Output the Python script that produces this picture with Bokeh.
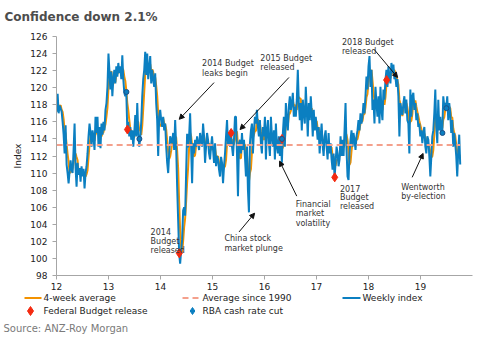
import pandas as pd
from bokeh.plotting import figure
from bokeh.layouts import column
from bokeh.core.properties import value
from bokeh.models import (Label, Arrow, NormalHead, FixedTicker, ColumnDataSource, Range1d)
from bokeh.embed import file_html
from bokeh.resources import INLINE

# ---------------- data ----------------
weekly_index = [
    117.2, 119.3, 117.0, 117.9, 117.6, 117.2, 116.0, 114.5, 112.3, 115.6,
    111.0, 110.0, 108.8, 110.2, 111.5, 110.4, 110.0, 112.7, 115.8, 110.6,
    108.4, 111.2, 109.8, 110.6, 109.0, 110.8, 109.6, 110.5, 108.2, 110.0,
    110.8, 112.3, 114.3, 115.8, 114.7, 113.1, 115.0, 114.3, 112.7, 116.6,
    114.7, 116.6, 113.1, 115.4, 112.9, 115.8, 114.5, 116.0, 115.0, 117.4,
    118.2, 120.1, 124.0, 122.1, 119.8, 121.9, 119.0, 121.0, 122.1, 120.5,
    122.5, 121.3, 122.9, 121.7, 122.5, 121.0, 123.8, 121.0, 119.4, 119.0,
    119.4, 115.1, 116.0, 114.3, 115.4, 113.9, 115.0, 113.1, 114.7, 116.8,
    114.3, 118.2, 114.7, 113.1, 114.1, 116.0, 119.0, 121.0, 122.1, 124.2,
    121.5, 124.0, 121.0, 122.3, 123.7, 120.5, 122.1, 121.0, 120.1, 121.7,
    118.2, 116.2, 112.0, 116.6, 117.4, 116.2, 115.4, 116.6, 115.0, 115.8,
    113.1, 111.2, 110.0, 112.3, 114.3, 113.9, 113.5, 114.7, 112.7, 116.2,
    113.1, 108.4, 104.5, 100.6, 99.4, 100.9, 102.2, 105.6, 106.0, 105.0,
    110.0, 114.6, 113.0, 114.3, 117.0, 113.1, 108.8, 113.5, 112.3, 113.9,
    113.1, 114.3, 113.5, 112.7, 114.7, 113.9, 113.1, 115.8, 114.3, 111.2,
    113.1, 114.7, 113.9, 112.3, 111.6, 113.1, 114.3, 112.7, 111.2, 113.5,
    110.8, 112.0, 111.6, 110.4, 109.6, 111.9, 111.2, 108.8, 110.8, 112.3,
    114.3, 116.2, 113.3, 114.7, 113.1, 114.7, 113.1, 112.0, 114.0, 116.6,
    116.6, 112.3, 107.3, 113.5, 113.9, 112.3, 114.7, 112.7, 113.9, 111.9,
    109.6, 113.1, 108.0, 105.4, 113.5, 115.0, 115.8, 112.3, 115.0, 116.6,
    115.8, 117.4, 115.4, 114.3, 116.2, 113.5, 112.3, 115.4, 114.3, 116.6,
    111.6, 115.0, 116.2, 113.5, 112.0, 116.6, 114.3, 113.1, 115.0, 111.6,
    115.8, 113.1, 112.3, 114.3, 112.0, 114.0, 111.2, 114.7, 116.6, 113.1,
    118.2, 116.2, 115.0, 117.8, 119.0, 117.4, 118.2, 119.4, 116.6, 117.8,
    116.6, 118.6, 122.1, 118.2, 116.2, 118.2, 115.0, 118.6, 117.0, 115.8,
    120.1, 117.4, 114.3, 118.2, 116.2, 119.0, 117.0, 114.3, 117.4, 115.0,
    116.6, 115.4, 113.9, 115.4, 112.3, 114.3, 115.8, 113.3, 112.0, 114.3,
    115.0, 113.1, 111.6, 114.7, 112.3, 113.5, 111.6, 110.4, 112.3, 109.5,
    111.2, 113.1, 112.3, 110.8, 111.6, 114.3, 112.0, 113.9, 112.0, 115.0,
    118.2, 112.7, 109.6, 109.2, 112.3, 113.9, 115.0, 113.1, 114.7, 113.9,
    112.7, 114.3, 115.0, 116.2, 115.0, 117.0, 115.8, 116.6, 118.2, 117.0,
    119.0, 121.3, 119.8, 122.5, 123.7, 120.1, 122.1, 117.4, 118.6, 115.8,
    120.1, 118.2, 116.6, 119.0, 115.8, 120.1, 117.4, 116.2, 119.8, 118.6,
    120.9, 122.1, 120.1, 122.5, 121.3, 120.5, 122.9, 121.7, 122.7, 121.0,
    121.3, 120.1, 121.0, 119.0, 114.3, 118.2, 117.4, 116.8, 118.2, 119.0,
    117.0, 118.6, 116.2, 115.8, 112.3, 119.8, 116.6, 119.0, 119.4, 117.4,
    118.2, 116.2, 117.0, 115.4, 115.8, 114.3, 115.0, 113.5, 114.7, 115.4,
    113.1, 112.3, 114.3, 113.9, 112.0, 109.6, 111.9, 114.3, 115.0, 117.0,
    119.8, 115.4, 113.5, 118.6, 115.0, 116.6, 114.7, 114.7, 119.0, 117.8,
    118.2, 117.7, 119.0, 116.2, 118.2, 117.0, 114.7, 116.2, 113.1, 114.7,
    113.5, 112.0, 109.6, 112.5, 114.5, 111.0,
]
first_week = "2012-01-02"
average_since_1990 = 113.3

budget_dates = ["2013-05-14", "2014-05-13", "2015-05-12", "2016-05-03", "2017-05-09", "2018-05-08"]
budget_values = [115.1, 100.6, 114.7, 114.0, 109.5, 120.9]
rba_dates = ["2013-05-07", "2013-08-06", "2016-05-03", "2019-06-04", "2019-07-02"]
rba_values = [119.5, 114.0, 114.0, 114.7, 117.6]

x_ticks = [12, 13, 14, 15, 16, 17, 18, 19]
y_ticks = [98, 100, 102, 104, 106, 108, 110, 112, 114, 116, 118, 120, 122, 124, 126]

title_text = "Confidence down 2.1%"
legend_labels = ["4-week average", "Average since 1990", "Weekly index",
                 "Federal Budget release", "RBA cash rate cut"]
source_text = "Source: ANZ-Roy Morgan"

# ---------------- colours / fonts ----------------
BLUE = "#0b7fc1"
ORANGE = "#f39200"
SALMON = "#f4a08c"
RED = "#f42a10"
FONT = "DejaVu Sans"
TXT = "#333333"
W = 484


def yearfrac(d):
    d = pd.DatetimeIndex(pd.to_datetime(d))
    return list(d.year - 2000 + (d.dayofyear - 1) / 365.25)


def strip(height, top, bottom):
    """A figure whose frame fills its canvas, with y in page pixels (top to bottom)."""
    f = figure(width=W, height=height, x_range=Range1d(0, W), y_range=Range1d(bottom, top),
               output_backend="svg", toolbar_location=None,
               x_axis_location=None, y_axis_location=None,
               min_border=0, min_border_left=0, min_border_right=0,
               min_border_top=0, min_border_bottom=0)
    f.frame_align = False
    f.outline_line_color = None
    f.xgrid.visible = False
    f.ygrid.visible = False
    f.background_fill_color = "white"
    f.border_fill_color = "white"
    return f


# ---------------- title strip (page y 0..30) ----------------
t = strip(30, 0, 30)
t.text(x=[4], y=[16.5], text=[title_text], text_font=value(FONT), text_font_size="12px",
       text_font_style="bold", text_color="#4d4d4d", text_baseline="alphabetic",
       text_align="left")

# ---------------- main chart (page y 30..293) ----------------
dates = pd.date_range(first_week, periods=len(weekly_index), freq="7D")
xs = yearfrac(dates)
avg4 = list(pd.Series(weekly_index).rolling(4, min_periods=1).mean())
src = ColumnDataSource(dict(x=xs, weekly=weekly_index, avg4=avg4,
                            avg=[average_since_1990] * len(xs)))

p = figure(width=W, height=263, x_range=(12, 20), y_range=(98, 126),
           output_backend="svg", toolbar_location=None,
           min_border_left=56, min_border_right=12, min_border_top=6, min_border_bottom=18)
p.frame_align = False
p.outline_line_color = None
p.background_fill_color = "white"
p.border_fill_color = "white"
p.xgrid.visible = False
p.ygrid.visible = False

p.xaxis.ticker = FixedTicker(ticks=x_ticks)
p.yaxis.ticker = FixedTicker(ticks=y_ticks)
for ax in (p.xaxis[0], p.yaxis[0]):
    ax.axis_line_color = "#a6a6a6"
    ax.major_tick_line_color = "#a6a6a6"
    ax.minor_tick_line_color = None
    ax.major_tick_out = 4
    ax.major_tick_in = 0
    ax.major_label_text_font = FONT
    ax.major_label_text_font_size = "9px"
    ax.major_label_text_color = "#222222"
p.yaxis.major_label_standoff = 5
p.xaxis.major_label_standoff = 3
p.yaxis.axis_label = "Index"
p.yaxis.axis_label_text_font = FONT
p.yaxis.axis_label_text_font_size = "9px"
p.yaxis.axis_label_text_font_style = "normal"
p.yaxis.axis_label_text_color = "#222222"
p.yaxis.axis_label_standoff = 4

p.line("x", "avg4", source=src, color=ORANGE, line_width=2)
p.line("x", "weekly", source=src, color=BLUE, line_width=2)
p.line("x", "avg", source=src, color=SALMON, line_width=2, line_dash="6 4")

p.scatter(yearfrac(budget_dates), budget_values, marker="diamond", size=9,
          fill_color=RED, line_color=RED)
p.scatter(yearfrac(rba_dates), rba_values, marker="circle", size=5,
          fill_color=BLUE, line_color="#1d4f86", line_width=1)


def note(x, y, lines, dy=1.08):
    for i, s in enumerate(lines):
        p.add_layout(Label(x=x, y=y - i * dy, text=s, text_font=FONT,
                           text_font_size="8px", text_color=TXT,
                           text_baseline="middle", text_align="left"))


def arrow(x0, y0, x1, y1):
    p.add_layout(Arrow(x_start=x0, y_start=y0, x_end=x1, y_end=y1, line_width=1,
                       line_color="#111111",
                       end=NormalHead(size=5, fill_color="#111111", line_color="#111111")))


note(14.80, 122.8, ["2014 Budget", "leaks begin"])
arrow(15.03, 120.6, 14.36, 116.3)
note(15.92, 123.4, ["2015 Budget", "released"])
arrow(16.47, 121.2, 15.53, 115.1)
note(13.81, 103.1, ["2014", "Budget", "released"])
note(15.23, 102.3, ["China stock", "market plunge"])
arrow(15.51, 103.1, 15.81, 105.3)
note(16.60, 106.3, ["Financial", "market", "volatility"])
arrow(16.62, 107.3, 16.29, 111.4)
note(17.45, 108.2, ["2017", "Budget", "released"])
note(17.49, 125.3, ["2018 Budget", "released"])
arrow(18.12, 124.4, 18.56, 121.2)
note(18.63, 108.3, ["Wentworth", "by-election"])
arrow(18.84, 109.5, 19.05, 112.3)

# ---------------- legend + source strip (page y 293..341) ----------------
b = strip(48, 293, 341)
row1, row2 = 297.5, 310.5
b.segment(x0=[24], y0=[row1], x1=[41], y1=[row1], line_color=ORANGE, line_width=2)
b.segment(x0=[182], y0=[row1], x1=[198], y1=[row1], line_color=SALMON, line_width=2,
          line_dash="6 4")
b.segment(x0=[342], y0=[row1], x1=[360], y1=[row1], line_color=BLUE, line_width=2)
b.scatter(x=[30], y=[row2], marker="diamond", size=9, fill_color=RED, line_color=RED)
b.scatter(x=[192], y=[row2], marker="diamond", size=7, fill_color=BLUE, line_color=BLUE)
b.text(x=[43, 202, 362, 43, 202], y=[row1, row1, row1, row2, row2], text=legend_labels,
       text_font=value(FONT), text_font_size="9px", text_color="#222222",
       text_baseline="middle", text_align="left")
b.text(x=[3], y=[327.5], text=[source_text], text_font=value(FONT), text_font_size="10px",
       text_color="#7a7a7a", text_baseline="middle", text_align="left")

layout = column(t, p, b, spacing=0)
open("out.html", "w").write(file_html(layout, INLINE))
